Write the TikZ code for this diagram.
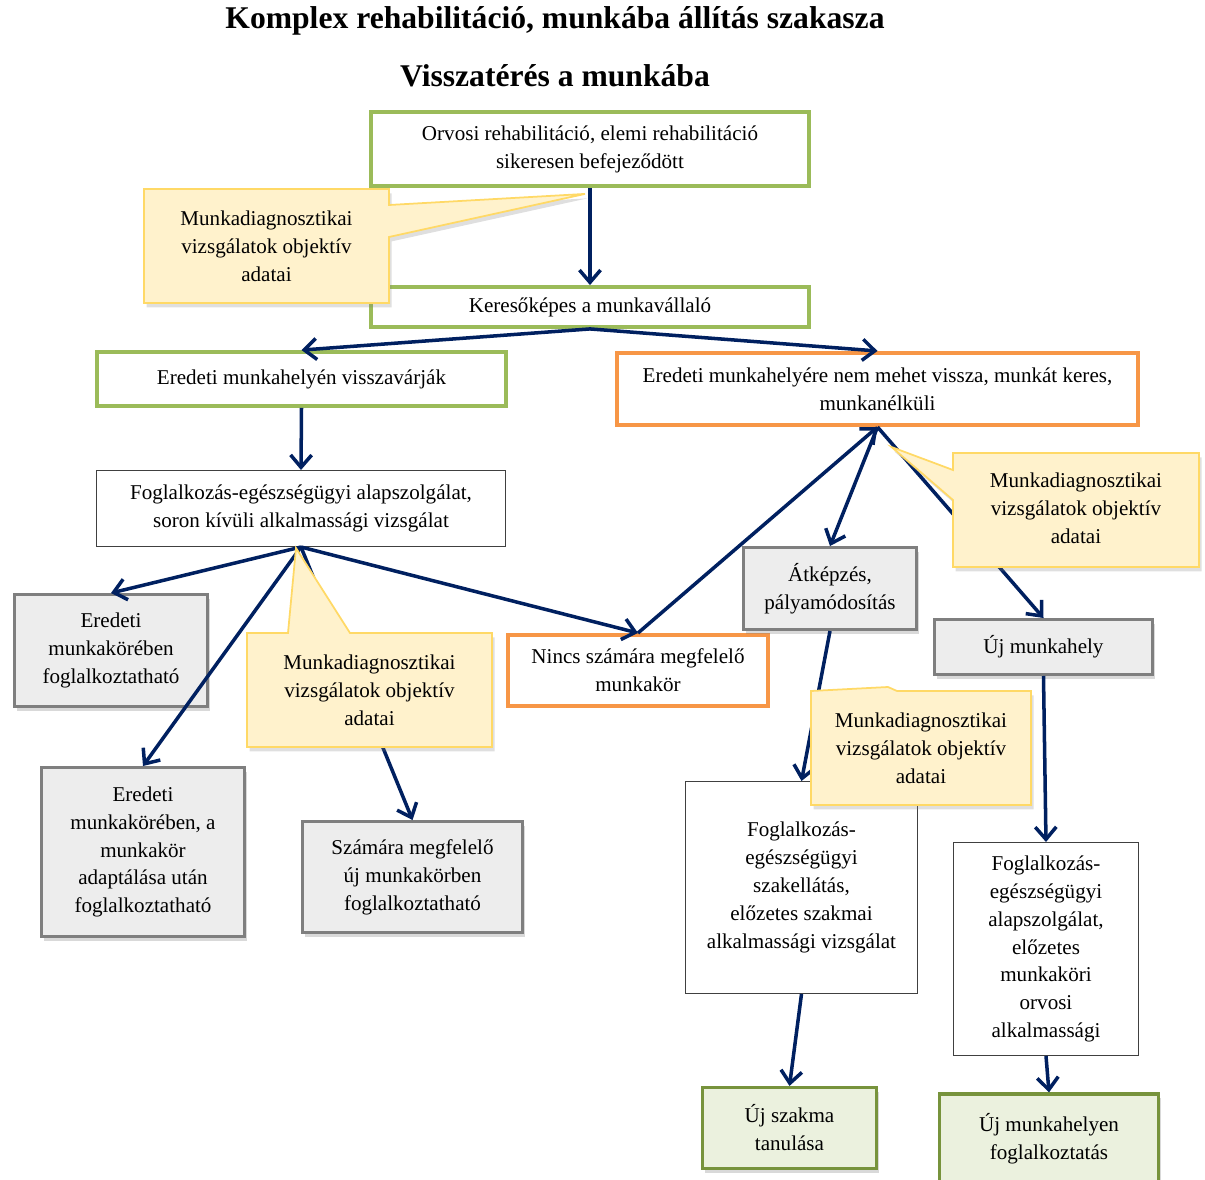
\documentclass[tikz,border=0pt]{standalone}
\usepackage{fontspec}
\setmainfont{Liberation Serif}
\usetikzlibrary{
  arrows.meta,
  shadows,
  calc
}
\definecolor{rhgreen}{HTML}{9BBB59}
\definecolor{rholive}{HTML}{77933C}
\definecolor{rholivefill}{HTML}{EBF1DE}
\definecolor{rhorange}{HTML}{F79646}
\definecolor{rhnavy}{HTML}{002060}
\definecolor{rhgray}{HTML}{7F7F7F}
\definecolor{rhgrayfill}{HTML}{EDEDED}
\definecolor{rhnote}{HTML}{FFF2CC}
\definecolor{rhnoteline}{HTML}{FFD966}

\begin{document}
\begin{tikzpicture}[
  x=0.02cm, y=-0.02cm,
  >={Straight Barb[length=7pt,width=12pt]},
  box/.style={draw, fill=white, align=center, inner sep=2pt,
    font=\fontsize{12}{15.9}\selectfont},
  greenbox/.style={box, draw=rhgreen, line width=2.2pt},
  orangebox/.style={box, draw=rhorange, line width=2pt},
  graybox/.style={box, draw=rhgray, fill=rhgrayfill, line width=1.7pt,
    drop shadow={shadow xshift=1.5pt, shadow yshift=-2.5pt, opacity=.3}},
  plainbox/.style={box, draw=black!75, line width=0.6pt},
  endbox/.style={box, draw=rholive, fill=rholivefill, line width=1.8pt,
    drop shadow={shadow xshift=1.5pt, shadow yshift=-2.5pt, opacity=.3}},
  note/.style={fill=rhnote, draw=rhnoteline, line width=1pt,
    drop shadow={shadow xshift=1.5pt, shadow yshift=-2.5pt, opacity=.25}},
  notetext/.style={align=center, font=\fontsize{12}{15.9}\selectfont},
  flow/.style={->, draw=rhnavy, line width=2pt},
  heading/.style={font=\fontsize{18}{22}\selectfont\bfseries}
]
  \useasboundingbox (0,0) rectangle (1205,1180);

  % Titles
  \node[heading] (title) at (555,21) {Komplex rehabilitáció, munkába állítás szakasza};
  \node[heading] (subtitle) at (555,76) {Visszatérés a munkába};

  % Upper part
  \node[greenbox, minimum width=8.76cm, minimum height=1.48cm] (orvosi) at (590,149)
    {Orvosi rehabilitáció, elemi rehabilitáció\\sikeresen befejeződött};
  \node[greenbox, minimum width=8.76cm, minimum height=0.8cm] (keres) at (590,307)
    {Keresőképes a munkavállaló};
  \node[greenbox, minimum width=8.18cm, minimum height=1.08cm] (eredeti) at (301.5,379)
    {Eredeti munkahelyén visszavárják};
  \node[orangebox, minimum width=10.42cm, minimum height=1.45cm] (nem) at (877.5,389)
    {Eredeti munkahelyére nem mehet vissza, munkát keres,\\munkanélküli};

  % Left branch
  \node[plainbox, minimum width=8.18cm, minimum height=1.52cm] (alap) at (301,508.5)
    {Foglalkozás-egészségügyi alapszolgálat,\\soron kívüli alkalmassági vizsgálat};
  \node[graybox, minimum width=3.86cm, minimum height=2.24cm] (erkor) at (111,650.5)
    {Eredeti\\munkakörében\\foglalkoztatható};
  \node[graybox, minimum width=4.06cm, minimum height=3.38cm] (adapt) at (143,852)
    {Eredeti\\munkakörében, a\\munkakör\\adaptálása után\\foglalkoztatható};
  \node[graybox, minimum width=4.4cm, minimum height=2.22cm] (ujkor) at (412.5,877)
    {Számára megfelelő\\új munkakörben\\foglalkoztatható};
  \node[orangebox, minimum width=5.21cm, minimum height=1.43cm] (nincs) at (638,670.5)
    {Nincs számára megfelelő\\munkakör};

  % Right branch
  \node[graybox, minimum width=3.46cm, minimum height=1.64cm] (atkep) at (830,588.5)
    {Átképzés,\\pályamódosítás};
  \node[graybox, minimum width=4.36cm, minimum height=1.1cm] (ujmh) at (1043.5,647)
    {Új munkahely};
  \node[plainbox, minimum width=4.64cm, minimum height=4.24cm] (szak) at (801.5,887.5)
    {Foglalkozás-\\egészségügyi\\szakellátás,\\előzetes szakmai\\alkalmassági vizsgálat};
  \node[plainbox, minimum width=3.7cm, minimum height=4.26cm] (orvalk) at (1046,949)
    {Foglalkozás-\\egészségügyi\\alapszolgálat,\\előzetes\\munkaköri\\orvosi\\alkalmassági};
  \node[endbox, minimum width=3.48cm, minimum height=1.62cm] (ujszakma) at (789.5,1128)
    {Új szakma\\tanulása};
  \node[endbox, minimum width=4.38cm, minimum height=1.8cm] (ujmhf) at (1049,1139)
    {Új munkahelyen\\foglalkoztatás};

  % Connectors
  \draw[flow] (orvosi.south) -- (keres.north);
  \draw[flow] (keres.south) -- (eredeti.north);
  \draw[flow] (keres.south) -- (nem.north);
  \draw[flow] (eredeti.south) -- (alap.north);
  \draw[flow] (alap.south) -- (erkor.north);
  \draw[flow] (alap.south) -- (adapt.north);
  \draw[flow] (alap.south) -- (ujkor.north);
  \draw[flow] (alap.south) -- (nincs.north);
  \draw[flow] (nincs.north) -- (nem.south);
  \draw[flow] (nem.south) -- (atkep.north);
  \draw[flow] (nem.south) -- (ujmh.north);
  \draw[flow] (atkep.south) -- (szak.north);
  \draw[flow] (ujmh.south) -- (orvalk.north);
  \draw[flow] (szak.south) -- (ujszakma.north);
  \draw[flow] (orvalk.south) -- (ujmhf.north);

  % Callouts
  \draw[note] (144,189) -- (389,189) -- (389,205) -- ($(orvosi.south)+(-5,6)$)
    -- (389,237) -- (389,303) -- (144,303) -- cycle;
  \node[notetext] (diag1) at (266.5,246) {Munkadiagnosztikai\\vizsgálatok objektív\\adatai};

  \draw[note] (247,633) -- (288,633) -- ($(alap.south)+(-5,1)$) -- (350,633)
    -- (492,633) -- (492,747) -- (247,747) -- cycle;
  \node[notetext] (diag2) at (369.5,690) {Munkadiagnosztikai\\vizsgálatok objektív\\adatai};

  \draw[note] (953,453) -- (1199,453) -- (1199,567) -- (953,567) -- (953,500)
    -- ($(nem.south)+(14,20)$) -- (953,470) -- cycle;
  \node[notetext] (diag3) at (1076,508) {Munkadiagnosztikai\\vizsgálatok objektív\\adatai};

  \draw[note] (811,691) -- (888,687) -- (897,691) -- (1031,691) -- (1031,805)
    -- (811,805) -- cycle;
  \node[notetext] (diag4) at (921,748) {Munkadiagnosztikai\\vizsgálatok objektív\\adatai};

\end{tikzpicture}
\end{document}
